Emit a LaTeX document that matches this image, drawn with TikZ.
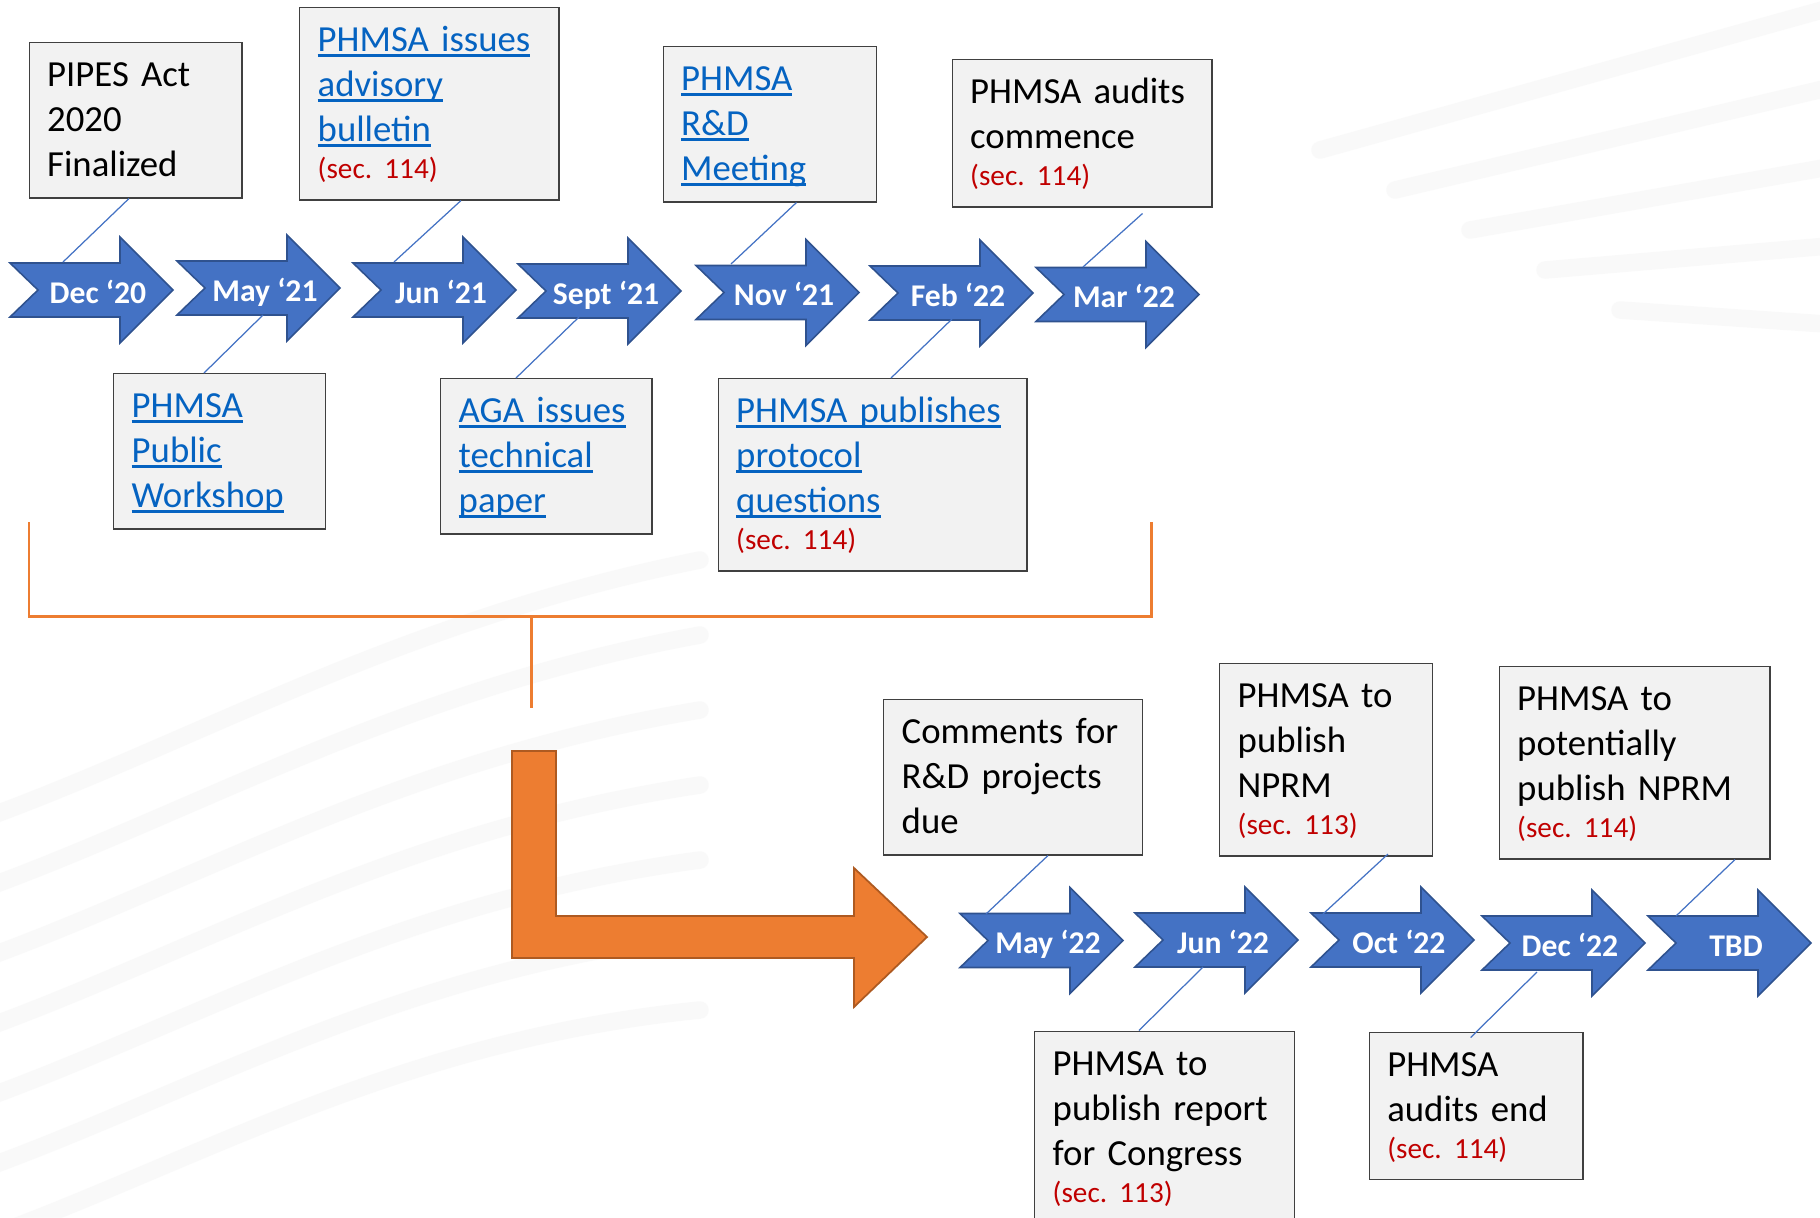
\documentclass[tikz,border=0pt]{standalone}
\usepackage{fontspec}
\setmainfont{Carlito}
\frenchspacing
\usetikzlibrary{calc}
\definecolor{arrowblue}{HTML}{4472C4}
\definecolor{arrowedge}{HTML}{2F528F}
\definecolor{linkblue}{HTML}{0563C1}
\definecolor{secred}{HTML}{C00000}
\definecolor{boxgray}{HTML}{F2F2F2}
\definecolor{boxedge}{HTML}{404040}
\definecolor{bendorange}{HTML}{ED7D31}
\definecolor{bendedge}{HTML}{AE5A21}
\def\lnk#1{\leavevmode\setbox0\hbox{#1}\rlap{\rule[-1.45pt]{\wd0}{0.75pt}}\box0}
\def\secnote#1{{\fontsize{8.3pt}{10pt}\selectfont\color{secred}(sec. #1)}}
\def\bstrut{\rule[-0.08cm]{0pt}{0.08cm}}
\def\datearrow(#1,#2)#3#4{%
	\draw[datearrow] (#1,#2) ++(0,-27) -- ++(110,0) -- ++(0,-26) -- ++(53,53) -- ++(-53,53) -- ++(0,-26) -- ++(-110,0) -- ++(28,-27) -- cycle;
	\coordinate (#3) at (#1,#2);
	\node[datelabel] (#3-txt) at (#1+88,#2+13) {#4};}

\begin{document}
\begin{tikzpicture}[x=0.01cm, y=-0.01cm,
		event/.style={draw=boxedge, fill=boxgray, line width=0.4pt, anchor=north west, align=left, inner xsep=0.18cm, inner ysep=0.13cm, text height=0.31cm, font=\fontsize{10.45pt}{0.45cm}\selectfont},
		linkevent/.style={event, text=linkblue},
		datearrow/.style={fill=arrowblue, draw=arrowedge, line width=0.45pt, line join=miter},
		datelabel/.style={text=white, anchor=base, inner sep=0pt, font=\fontsize{9pt}{10pt}\selectfont\bfseries},
		stem/.style={draw=arrowblue, line width=0.35pt},
		bracket/.style={draw=bendorange, line width=0.85pt},
		swoosh/.style={draw=black!4, line width=5pt, line cap=round, opacity=0.5}]
	%%%%% START %%%%%
	\useasboundingbox (0,0) rectangle (1820,1217);
	\clip (0,0) rectangle (1820,1217);
	\fill[white] (0,0) rectangle (1820,1217);
	
	% faint background
	\foreach \k in {0,...,6}
		\draw[swoosh] (-20,{820+70*\k}) .. controls (200,{740+70*\k}) and (400,{620+70*\k}) .. (700,{560+75*\k});
	\foreach \k in {0,...,4}
		\draw[swoosh] ({1320+75*\k},{150+40*\k}) -- (1840,{5+80*\k});
	
	% boxes, upper row
	\node[event, text width=1.765cm] (pipes) at (28.5,42) {PIPES Act\\2020\\Finalized\bstrut};
	\node[linkevent, text width=2.23cm] (bulletin) at (299,7) {\lnk{PHMSA issues}\\\lnk{advisory}\\\lnk{bulletin}\\[-0.08cm]\secnote{114}\bstrut};
	\node[linkevent, text width=1.77cm] (rdmeet) at (662.5,46) {\lnk{PHMSA}\\\lnk{R\&D}\\\lnk{Meeting}\bstrut};
	\node[event, text width=2.235cm] (auditstart) at (951.5,59) {PHMSA audits\\commence\\[-0.08cm]\secnote{114}\bstrut};
	\node[linkevent, text width=1.755cm] (workshop) at (113,373) {\lnk{PHMSA}\\\lnk{Public}\\\lnk{Workshop}\bstrut};
	\node[linkevent, text width=1.75cm] (agapaper) at (440,378) {\lnk{AGA issues}\\\lnk{technical}\\\lnk{paper}\bstrut};
	\node[linkevent, text width=2.725cm] (protocol) at (717.5,378) {\lnk{PHMSA publishes}\\\lnk{protocol}\\\lnk{questions}\\[-0.08cm]\secnote{114}\bstrut};
	
	% boxes, lower row
	\node[event, text width=2.225cm] (comments) at (883,699) {Comments for\\R\&D projects\\due\bstrut};
	\node[event, text width=1.767cm] (nprm) at (1219,663) {PHMSA to\\publish\\NPRM\\[-0.08cm]\secnote{113}\bstrut};
	\node[event, text width=2.345cm] (nprmpot) at (1498.5,666) {PHMSA to\\potentially\\publish NPRM\\[-0.08cm]\secnote{114}\bstrut};
	\node[event, text width=2.237cm] (report) at (1034,1030.5) {PHMSA to\\publish report\\for Congress\\[-0.08cm]\secnote{113}\bstrut};
	\node[event, text width=1.774cm] (auditend) at (1368.6,1031.5) {PHMSA\\audits end\\[-0.08cm]\secnote{114}\bstrut};
	
	% dates
	\datearrow(10,290){dec20}{Dec ‘20}
	\datearrow(177,288){may21}{May ‘21}
	\datearrow(353,290){jun21}{Jun ‘21}
	\datearrow(518,291){sept21}{Sept ‘21}
	\datearrow(696,292.5){nov21}{Nov ‘21}
	\datearrow(870,293){feb22}{Feb ‘22}
	\datearrow(1036,294.5){mar22}{Mar ‘22}
	
	\datearrow(960,940.5){may22}{May ‘22}
	\datearrow(1135,940){jun22}{Jun ‘22}
	\datearrow(1311,940){oct22}{Oct ‘22}
	\datearrow(1482,943){dec22}{Dec ‘22}
	\datearrow(1648,943){tbd}{TBD}
	
	% orange bracket and bend
	\draw[bracket] (29,522) |- (1151,616) -- (1151,522);
	\draw[bracket] (531.5,616) -- (531.5,708);
	\draw[fill=bendorange, draw=bendedge, line width=0.5pt] (512,751) -- (556,751) -- (556,916) -- (854,916) -- (854,868) -- (927,937) -- (854,1007) -- (854,958) -- (512,958) -- cycle;
	
	% stems
	\draw[stem] ($(pipes.south west)+(100.5,0)$) -- ($(dec20)+(53,-28)$);
	\draw[stem] ($(bulletin.south west)+(162,0)$) -- ($(jun21)+(41,-28)$);
	\draw[stem] ($(rdmeet.south west)+(134,0)$) -- ($(nov21)+(35,-28.5)$);
	\draw[stem] ($(auditstart.south west)+(191,6)$) -- ($(mar22)+(47,-27.5)$);
	\draw[stem] ($(may21)+(86,27)$) -- ($(workshop.north west)+(91,0)$);
	\draw[stem] ($(sept21)+(61,26)$) -- ($(agapaper.north west)+(76,0)$);
	\draw[stem] ($(feb22)+(82,26)$) -- ($(protocol.north west)+(173.5,0)$);
	\draw[stem] ($(comments.south west)+(165,0)$) -- ($(may22)+(26,-26.5)$);
	\draw[stem] ($(nprm.south west)+(169,-2.5)$) -- ($(oct22)+(12,-26)$);
	\draw[stem] ($(nprmpot.south west)+(236.5,0)$) -- ($(tbd)+(28,-27)$);
	\draw[stem] ($(jun22)+(68,27)$) -- ($(report.north west)+(105,0)$);
	\draw[stem] ($(dec22)+(55,29)$) -- ($(auditend.north west)+(102,6)$);
	%%%%% END %%%%%
\end{tikzpicture}
\end{document}
